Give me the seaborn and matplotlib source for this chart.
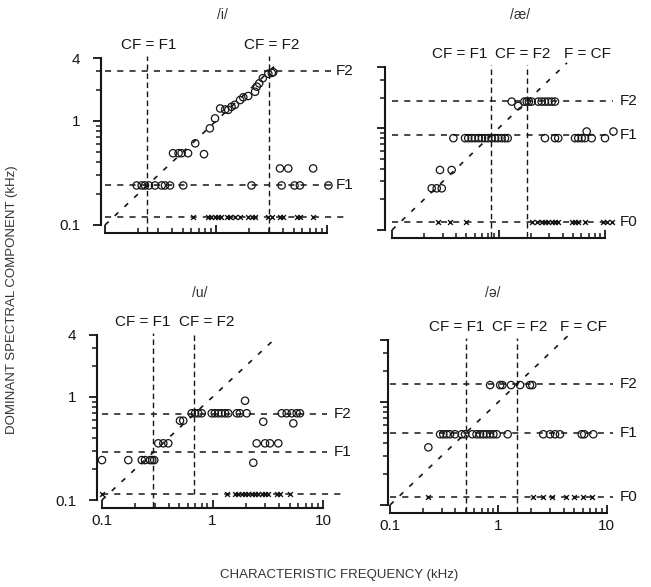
import numpy as np
import matplotlib
matplotlib.use('Agg')
import matplotlib.pyplot as plt
from matplotlib.ticker import FixedLocator, NullFormatter, FixedFormatter
import seaborn as sns

# Formant frequencies (kHz): F0, F1, F2
i_formants = [0.12, 0.24, 3.0]
ae_formants = [0.12, 0.85, 1.85]
u_formants = [0.115, 0.29, 0.68]
schwa_formants = [0.12, 0.5, 1.5]

# /i/ dominant components (circles): CF and component frequency
i_cf = [0.193, 0.214, 0.229, 0.249, 0.282, 0.324, 0.347, 0.385, 0.507, 2.09, 3.9, 5.1, 5.7, 10.3,
        3.77, 4.48, 7.5,
        0.41, 0.46, 0.49, 0.56, 0.65, 0.78, 0.88, 0.98, 1.09, 1.21, 1.29, 1.38, 1.48, 1.65, 1.76,
        1.95, 2.25, 2.33, 2.45, 2.64, 2.96, 3.18, 3.28]
i_peak = [0.24, 0.24, 0.24, 0.24, 0.24, 0.24, 0.24, 0.24, 0.24, 0.24, 0.24, 0.24, 0.24, 0.24,
          0.35, 0.35, 0.35,
          0.49, 0.49, 0.49, 0.49, 0.61, 0.48, 0.85, 1.06, 1.32, 1.29, 1.28, 1.37, 1.43, 1.59, 1.69,
          1.74, 1.91, 2.14, 2.30, 2.58, 2.85, 2.90, 2.95]
i_f0_cf = [0.62, 0.85, 0.91, 0.98, 1.05, 1.12, 1.25, 1.34, 1.48, 1.65, 1.95, 2.10, 2.25, 2.96,
           3.18, 3.77, 4.04, 5.33, 5.71, 7.53]

# /ae/
ae_cf = [1.33, 1.53, 1.75, 1.84, 1.93, 2.05, 2.36, 2.54, 2.73, 2.94, 3.16, 3.39,
         0.377, 0.485, 0.52, 0.56, 0.60, 0.65, 0.70, 0.75, 0.80, 0.86, 0.93, 0.995, 1.07, 1.15,
         1.22, 2.73, 3.39, 3.64, 5.23, 5.61, 6.04, 6.49, 7.5, 10.0, 6.73, 12.0,
         0.282, 0.363, 0.236, 0.263, 0.293]
ae_peak = [1.83, 1.66, 1.83, 1.83, 1.83, 1.83, 1.83, 1.83, 1.83, 1.83, 1.83, 1.83,
           0.80, 0.80, 0.80, 0.80, 0.80, 0.80, 0.80, 0.80, 0.80, 0.80, 0.80, 0.80, 0.80, 0.80,
           0.80, 0.80, 0.80, 0.80, 0.80, 0.80, 0.80, 0.80, 0.80, 0.80, 0.93, 0.93,
           0.389, 0.389, 0.257, 0.257, 0.257]
ae_f0_cf = [0.272, 0.35, 0.50, 2.05, 2.28, 2.55, 2.73, 2.94, 3.16, 3.39, 3.64, 4.87, 5.23,
            5.61, 6.49, 9.64, 10.4, 11.6]

# /u/
u_cf = [0.648, 0.695, 0.743, 0.798, 0.984, 1.05, 1.13, 1.21, 1.30, 1.39, 1.66, 1.77, 2.04,
        4.23, 4.69, 5.21, 5.78, 6.19, 2.88, 5.39, 1.97, 0.508, 0.544,
        0.323, 0.359, 0.398, 2.51, 2.99, 3.31, 3.94,
        0.1, 0.173, 0.229, 0.245, 0.272, 0.285, 0.297, 2.34]
u_peak = [0.695, 0.695, 0.695, 0.695, 0.695, 0.695, 0.695, 0.695, 0.695, 0.695, 0.695, 0.695,
          0.695, 0.695, 0.695, 0.695, 0.695, 0.695, 0.575, 0.555, 0.92, 0.589, 0.589,
          0.355, 0.355, 0.355, 0.355, 0.355, 0.355, 0.355,
          0.244, 0.244, 0.244, 0.244, 0.244, 0.244, 0.244, 0.23]
u_f0_cf = [0.1, 1.34, 1.60, 1.71, 1.84, 1.97, 2.11, 2.26, 2.42, 2.6, 2.79, 2.99, 3.2, 3.81,
           4.08, 5.03]

# /schwa/
schwa_cf = [0.84, 1.04, 1.09, 1.31, 1.59, 1.96, 2.06,
            0.29, 0.31, 0.334, 0.358, 0.398, 0.459, 0.493, 0.575, 0.63, 0.678, 0.727, 0.78,
            0.84, 0.90, 0.966, 1.22, 2.6, 3.0, 3.34, 3.71, 5.89, 6.22, 7.54,
            0.226]
schwa_peak = [1.46, 1.46, 1.46, 1.46, 1.46, 1.46, 1.46,
              0.486, 0.486, 0.486, 0.486, 0.486, 0.486, 0.486, 0.486, 0.486, 0.486, 0.486,
              0.486, 0.486, 0.486, 0.486, 0.486, 0.486, 0.486, 0.486, 0.486, 0.486, 0.486,
              0.486, 0.363]
schwa_f0_cf = [0.226, 2.1, 2.6, 3.1, 4.2, 5.0, 6.0, 7.3]

titles = ['/i/', '/æ/', '/u/', '/ə/']

sns.set_style('ticks')
plt.rcParams['font.family'] = ['Liberation Sans', 'DejaVu Sans']

W, H = 651, 587
fig = plt.figure(figsize=(W / 100, H / 100), dpi=100)
ink = '#161616'


def make_axes(spine_x, x0, xd, y0, yd, xmax=16, ymax=4.5):
    # place axes so that 0.1 kHz sits at pixel (x0, y0) with given decade sizes
    xmin = 10 ** (-1 - (x0 - spine_x) / xd)
    right = x0 + xd * (np.log10(xmax) + 1)
    top = y0 - yd * (np.log10(ymax) + 1)
    ax = fig.add_axes([spine_x / W, 1 - y0 / H, (right - spine_x) / W, (y0 - top) / H])
    ax.set_xscale('log')
    ax.set_yscale('log')
    ax.set_xlim(xmin, xmax)
    ax.set_ylim(0.1, ymax)
    return ax


panels = [
    dict(ax=make_axes(101, 105, 111, 225, 104), cf=i_cf, peak=i_peak, f0=i_f0_cf,
         fm=i_formants, title=titles[0], tpos=(222, 15), ylab=True, xlab=False,
         f0_label=False, line_end=10.8, lab_x=12.0, diag_end=3.5, f2_bottom=0.086,
         notes=[('CF = F1', 0.245, 'center'), ('CF = F2', 3.15, 'center')]),
    dict(ax=make_axes(385, 392, 106.5, 230, 101.7), cf=ae_cf, peak=ae_peak, f0=ae_f0_cf,
         fm=ae_formants, title=titles[1], tpos=(520, 15), ylab=False, xlab=False,
         f0_label=True, line_end=11.8, lab_x=13.8, diag_end=4.4, f2_bottom=0.086,
         notes=[('CF = F1', 0.43, 'center'), ('CF = F2', 1.7, 'center'), ('F = CF', 6.8, 'center')]),
    dict(ax=make_axes(97, 102, 110.5, 500, 103), cf=u_cf, peak=u_peak, f0=u_f0_cf,
         fm=u_formants, title=titles[2], tpos=(200, 293), ylab=True, xlab=True,
         f0_label=False, line_end=10.8, lab_x=12.5, diag_end=3.5, f2_bottom=u_formants[0],
         notes=[('CF = F1', 0.235, 'center'), ('CF = F2', 0.89, 'center')]),
    dict(ax=make_axes(388, 390, 108.3, 505, 103), cf=schwa_cf, peak=schwa_peak, f0=schwa_f0_cf,
         fm=schwa_formants, title=titles[3], tpos=(493, 293), ylab=False, xlab=True,
         f0_label=True, line_end=11.5, lab_x=13.3, diag_end=4.4, f2_bottom=0.086,
         notes=[('CF = F1', 0.41, 'center'), ('CF = F2', 1.58, 'center'), ('F = CF', 6.05, 'center')]),
]

for p in panels:
    ax = p['ax']
    f0, f1, f2 = p['fm']

    # reference lines
    dash = dict(color=ink, lw=1.1, dashes=(4, 4), clip_on=False, zorder=1)
    ax.plot([0.1, p['diag_end']], [0.1, p['diag_end']], **dict(dash, lw=1.2, dashes=(3, 5)))
    for f in (f1, f2):
        ax.plot([0.1, p['line_end']], [f, f], **dash)
    ax.plot([f1, f1], [0.086, 4.2], **dict(dash, lw=1.0, dashes=(4, 2.5)))
    ax.plot([f2, f2], [p['f2_bottom'], 4.2], **dict(dash, lw=1.0, dashes=(4, 2.5)))
    ax.plot([0.1, p['line_end'] if p['f0_label'] else 14.5], [f0, f0], **dash)

    # data
    sns.scatterplot(x=p['cf'], y=p['peak'], ax=ax, marker='o', s=28, facecolor='none',
                    edgecolor=ink, linewidth=0.9, zorder=3, clip_on=False)
    sns.scatterplot(x=p['f0'], y=[f0] * len(p['f0']), ax=ax, marker='x', s=12, color=ink,
                    linewidth=1.0, zorder=3, clip_on=False)

    # formant labels
    for name, f in (('F2', f2), ('F1', f1)):
        ax.text(p['lab_x'], f, name, ha='left', va='center', fontsize=11, color=ink)
    if p['f0_label']:
        ax.text(p['lab_x'], f0, 'F0', ha='left', va='center', fontsize=11, color=ink)

    for txt, x, ha in p['notes']:
        ax.text(x, 5.35, txt, ha=ha, va='center', fontsize=11, color=ink)

    fig.text(p['tpos'][0] / W, 1 - p['tpos'][1] / H, p['title'], ha='center', va='center',
             fontsize=10, color='#333333')

    # axes styling
    sns.despine(ax=ax)
    ax.spines['bottom'].set_position(('outward', 6))
    ax.spines['left'].set_bounds(0.1, 4)
    ax.spines['bottom'].set_bounds(0.1, 10)
    for s in ('left', 'bottom'):
        ax.spines[s].set_linewidth(1.5)
        ax.spines[s].set_color(ink)

    ax.yaxis.set_major_locator(FixedLocator([0.1, 1, 4]))
    ax.yaxis.set_minor_locator(FixedLocator([0.2, 0.3, 0.4, 0.5, 0.6, 0.7, 0.8, 0.9, 2, 3]))
    ax.xaxis.set_major_locator(FixedLocator([0.1, 1, 10]))
    ax.xaxis.set_minor_locator(FixedLocator([0.2, 0.3, 0.4, 0.5, 0.6, 0.7, 0.8, 0.9,
                                             2, 3, 4, 5, 6, 7, 8, 9]))
    ax.yaxis.set_minor_formatter(NullFormatter())
    ax.xaxis.set_minor_formatter(NullFormatter())
    ax.yaxis.set_major_formatter(FixedFormatter(['0.1', '1', '4'] if p['ylab'] else ['', '', '']))
    ax.xaxis.set_major_formatter(FixedFormatter(['0.1', '1', '10'] if p['xlab'] else ['', '', '']))

    ax.tick_params(axis='y', which='major', direction='out', length=6, width=1.3, pad=9,
                   labelsize=11, colors=ink)
    ax.tick_params(axis='y', which='minor', direction='out', length=3.5, width=1.1, colors=ink)
    ax.tick_params(axis='x', which='major', direction='in', length=6, width=1.3, pad=4,
                   labelsize=11, colors=ink)
    ax.tick_params(axis='x', which='minor', direction='in', length=3.5, width=1.1, colors=ink)
    ax.set_xlabel('')
    ax.set_ylabel('')

fig.text(12 / W, 1 - 300 / H, 'DOMINANT SPECTRAL COMPONENT (kHz)', rotation=90,
         ha='center', va='center', fontsize=9.5, color='#333333')
fig.text(339 / W, 1 - 575 / H, 'CHARACTERISTIC FREQUENCY (kHz)',
         ha='center', va='center', fontsize=9.5, color='#333333')

fig.savefig('out.png', dpi=100)
